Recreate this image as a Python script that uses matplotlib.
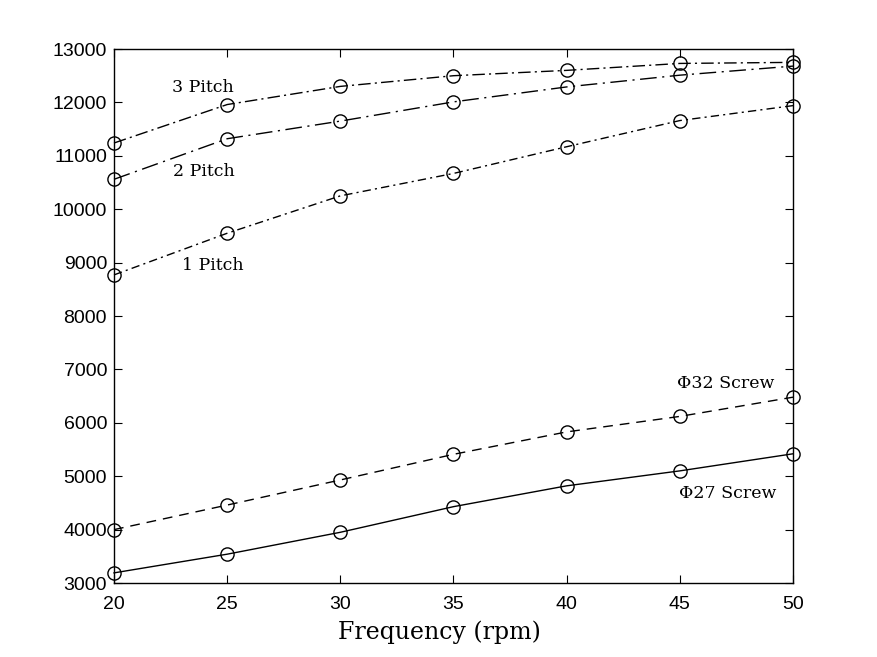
import matplotlib
matplotlib.use("Agg")
import matplotlib.pyplot as plt

freq = [20, 25, 30, 35, 40, 45, 50]
pitch3 = [11240, 11960, 12300, 12500, 12600, 12730, 12750]
pitch2 = [10560, 11320, 11650, 12010, 12290, 12510, 12680]
pitch1 = [8770, 9550, 10250, 10670, 11170, 11660, 11940]
screw32 = [4000, 4460, 4930, 5410, 5830, 6120, 6480]
screw27 = [3190, 3540, 3950, 4430, 4820, 5100, 5420]

xticks = [20, 25, 30, 35, 40, 45, 50]
yticks = list(range(3000, 13001, 1000))

fig = plt.figure(figsize=(8.77, 6.57), dpi=100)
ax = fig.add_axes([0.130, 0.1126, 0.7742, 0.8128])

mk = dict(marker='o', markersize=9.5, markerfacecolor='none',
          markeredgecolor='black', markeredgewidth=1.0, color='black',
          linewidth=1.0, clip_on=False, zorder=3)

ax.plot(freq, pitch3, dashes=(9, 3, 1.5, 3), **mk)
ax.plot(freq, pitch2, dashes=(12, 4, 1.5, 4), **mk)
ax.plot(freq, pitch1, dashes=(6, 3, 1.5, 3), **mk)
ax.plot(freq, screw32, dashes=(7, 5), **mk)
ax.plot(freq, screw27, linestyle='-', **mk)

ax.set_xlim(20, 50)
ax.set_ylim(3000, 13000)
ax.set_xticks(xticks)
ax.set_yticks(yticks)
ax.tick_params(direction='in', length=6, width=0.8, top=True, right=True,
               labelsize=14)
ax.tick_params(axis='x', pad=9)
ax.tick_params(axis='y', pad=5)
for lab in ax.get_xticklabels() + ax.get_yticklabels():
    lab.set_fontfamily('Liberation Sans')
for s in ax.spines.values():
    s.set_linewidth(1.0)

ax.set_xlabel('Frequency (rpm)', family='DejaVu Serif', fontsize=17)
ax.xaxis.set_label_coords(0.48, -0.093)
ax.xaxis.label.set_va('center')

tk = dict(family=['DejaVu Serif'], fontsize=12.5, ha='center', va='center')
ax.text(23.93, 12270, '3 Pitch', **tk)
ax.text(23.98, 10715, '2 Pitch', **tk)
ax.text(24.37, 8955, '1 Pitch', **tk)
ax.text(47.04, 6727, '\u03A632 Screw', **tk)
ax.text(47.13, 4685, '\u03A627 Screw', **tk)

fig.savefig('out.png', dpi=100)
